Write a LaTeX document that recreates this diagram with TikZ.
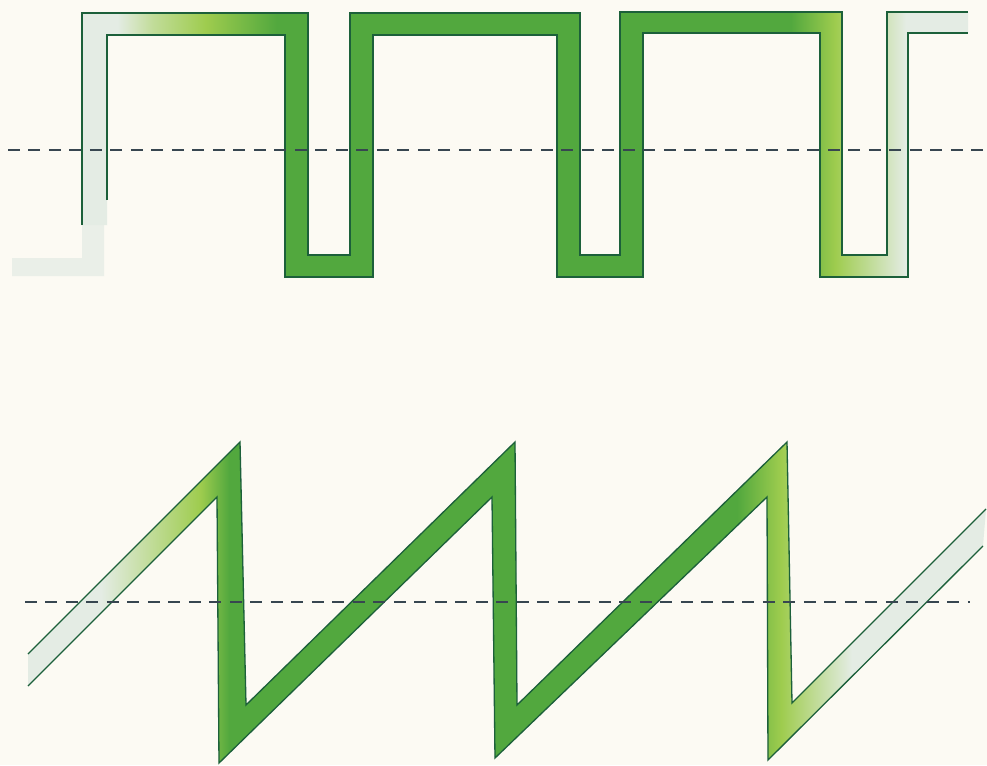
\documentclass[tikz,border=0pt]{standalone}
\usepackage{xcolor}
\usepackage{tikz}
\usetikzlibrary{positioning}
\usetikzlibrary{calc}
\definecolor{paper}{RGB}{252,250,243}
\definecolor{wavegreen}{RGB}{82,168,62}
\definecolor{wavelime}{RGB}{158,204,78}
\definecolor{wavepale}{RGB}{228,236,228}
\definecolor{waveedge}{RGB}{28,96,58}
\definecolor{axisdash}{RGB}{55,70,80}
\pgfdeclarehorizontalshading{squarefade}{100bp}{color(0bp)=(wavepale); color(25bp)=(wavepale);
  color(27bp)=(wavepale); color(29bp)=(wavelime!50!wavepale); color(32bp)=(wavelime);
  color(36bp)=(wavegreen); color(65bp)=(wavegreen); color(67.5bp)=(wavelime);
  color(71.5bp)=(wavepale); color(75bp)=(wavepale); color(100bp)=(wavepale)}
\pgfdeclarehorizontalshading{sawfade}{100bp}{color(0bp)=(wavepale); color(25bp)=(wavepale);
  color(28.8bp)=(wavepale); color(31.4bp)=(wavelime!50!wavepale); color(34bp)=(wavelime);
  color(35.5bp)=(wavegreen); color(62bp)=(wavegreen); color(64.3bp)=(wavelime);
  color(68bp)=(wavepale); color(75bp)=(wavepale); color(100bp)=(wavepale)}
\tikzset{
	x=0.02cm, y=-0.02cm,
	ribbon edge/.style = {draw=waveedge, line width=0.75pt, line join=miter},
	zero line/.style = {draw=axisdash, line width=0.6pt, dash pattern=on 0.24cm off 0.17cm},
}

\begin{document}
\begin{tikzpicture}
	\fill[paper] (0,0) rectangle (987,765);
	\useasboundingbox (0,0) rectangle (987,765);
	% faint tail of the square wave
	\fill[wavepale!75!paper] (82,225) -- (104,225) -- (104,276) -- (12,276) -- (12,258) -- (82,258) -- cycle;
	% square wave
	\shade[shading=squarefade]
		(82,225) -- (82,13) -- (308,13) -- (308,255) -- (350,255) -- (350,13) -- (580,13) -- (580,255)
		-- (620,255) -- (620,12) -- (842,12) -- (842,255) -- (887,255) -- (887,12) -- (968,12)
		-- (968,33) -- (908,33) -- (908,277) -- (820,277) -- (820,33) -- (643,33) -- (643,277)
		-- (557,277) -- (557,35) -- (373,35) -- (373,277) -- (285,277) -- (285,35) -- (107,35) -- (107,225) -- cycle;
	\draw[ribbon edge] (82,225) -- (82,13) -- (308,13) -- (308,255) -- (350,255) -- (350,13) -- (580,13) -- (580,255)
		-- (620,255) -- (620,12) -- (842,12) -- (842,255) -- (887,255) -- (887,12) -- (968,12);
	\draw[ribbon edge] (107,200) -- (107,35) -- (285,35) -- (285,277) -- (373,277) -- (373,35) -- (557,35) -- (557,277)
		-- (643,277) -- (643,33) -- (820,33) -- (820,277) -- (908,277) -- (908,33) -- (968,33);
	% sawtooth wave
	\shade[shading=sawfade]
		(28,654) -- (240,442) -- (246,705) -- (515,442) -- (517,705) -- (787,442) -- (792,703) -- (986,509)
		-- (983,546) -- (768,760) -- (767,497) -- (495,758) -- (492,497) -- (219,763) -- (217,497) -- (28,686) -- cycle;
	\draw[ribbon edge] (28,654) -- (240,442) -- (246,705) -- (515,442) -- (517,705) -- (787,442) -- (792,703) -- (986,509);
	\draw[ribbon edge] (28,686) -- (217,497) -- (219,763) -- (492,497) -- (495,758) -- (767,497) -- (768,760) -- (983,546);
	% zero lines
	\coordinate (sqStart) at (8,150);
	\coordinate (sqEnd) at (985,150);
	\coordinate (swStart) at (25,602);
	\coordinate (swEnd) at (970,602);
	\draw[zero line] (sqStart) -- (sqEnd);
	\draw[zero line] (swStart) -- (swEnd);
\end{tikzpicture}
\end{document}
